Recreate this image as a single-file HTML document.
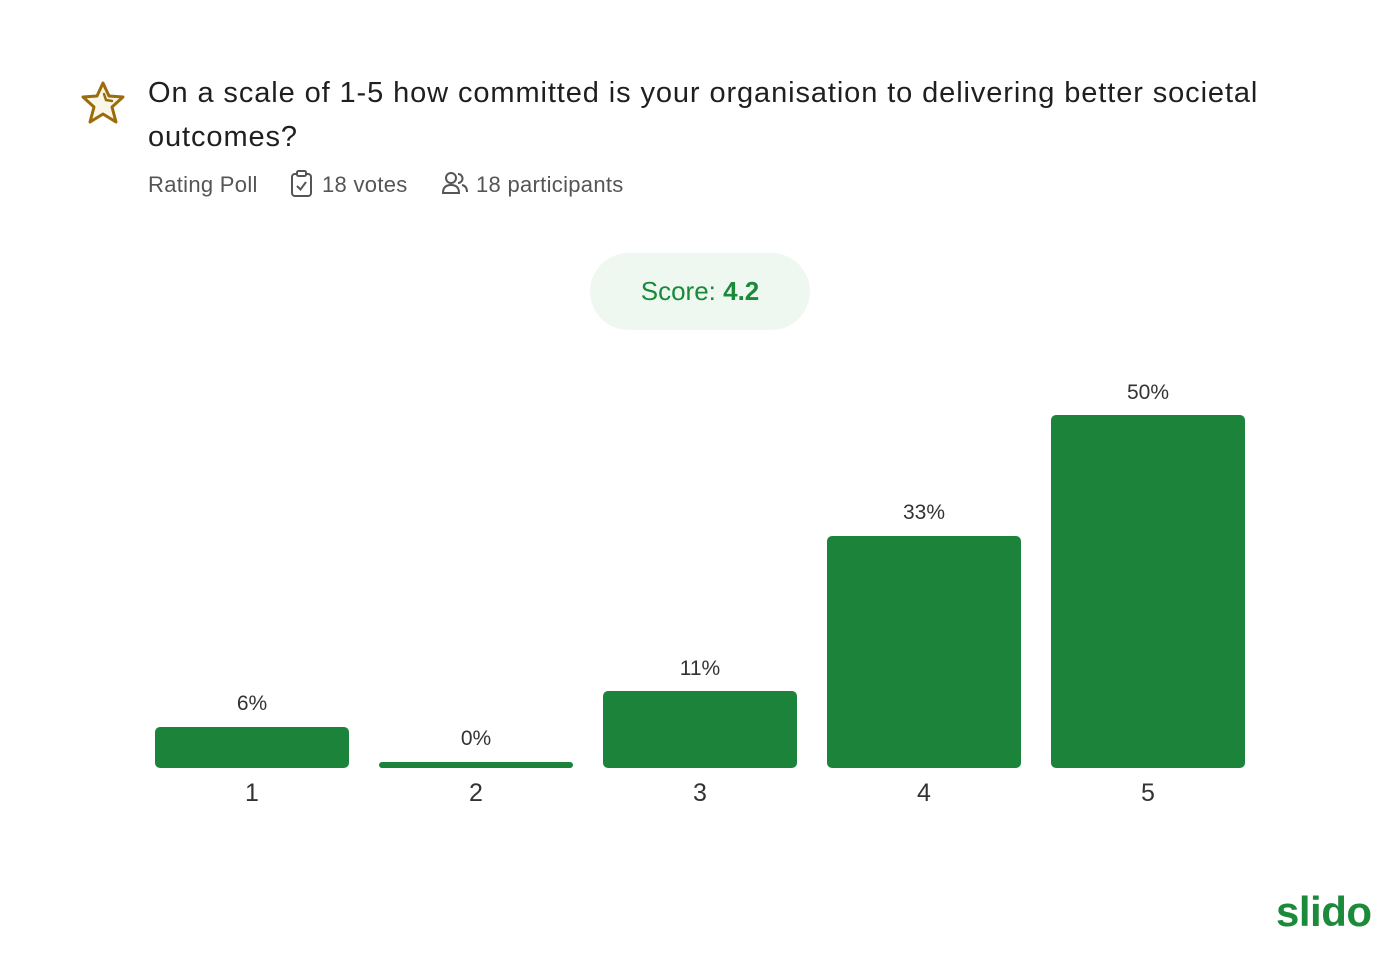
<!DOCTYPE html>
<html><head><meta charset="utf-8"><style>
body{margin:0;width:1400px;height:960px;background:#fff;font-family:"Liberation Sans",sans-serif;position:relative;overflow:hidden}
.a{position:absolute}
.t{left:148px;top:71px;font-size:29px;line-height:44px;color:#1f1f1f;width:1140px;letter-spacing:0.9px}
.m{top:172px;font-size:22px;color:#555;line-height:26px;letter-spacing:0.3px}
.pill{left:590px;top:253px;width:220px;height:77px;border-radius:39px;background:#eef8f0;color:#1a8a3a;font-size:26px;text-align:center;line-height:77px}
.bar{background:#1b833a;width:194px;border-radius:5px}
.pl{width:194px;text-align:center;font-size:21px;color:#333}
.xl{width:194px;text-align:center;font-size:25px;color:#333;top:779px}
</style></head><body>
<svg class="a" style="left:80px;top:80px" width="46" height="46" viewBox="0 0 46 46"><path d="M23 3 L29 16 L43 17 L32 27 L36 42 L23 34 L10 42 L14 27 L3 17 L17 16 Z" fill="#fbf7e8" stroke="#9a6c0a" stroke-width="3" stroke-linejoin="round"/><path d="M24 14 L26 20 L32 21" fill="none" stroke="#9a6c0a" stroke-width="2.5" stroke-linecap="round"/></svg>
<div class="a t">On a scale of 1-5 how committed is your organisation to delivering better societal outcomes?</div>
<div class="a m" style="left:148px">Rating Poll</div>
<svg class="a" style="left:290px;top:170px" width="24" height="28" viewBox="0 0 24 28"><rect x="2" y="4" width="19" height="22" rx="3" fill="none" stroke="#555" stroke-width="2"/><rect x="7" y="1" width="9" height="5" rx="1.5" fill="#fff" stroke="#555" stroke-width="2"/><path d="M7 16 L10.5 19.5 L16 12" fill="none" stroke="#555" stroke-width="2"/></svg>
<div class="a m" style="left:322px">18 votes</div>
<svg class="a" style="left:441px;top:171px" width="28" height="26" viewBox="0 0 28 26"><circle cx="10" cy="7" r="5" fill="none" stroke="#555" stroke-width="2"/><path d="M2 22 Q2 14 10 14 Q18 14 18 22 Z" fill="none" stroke="#555" stroke-width="2"/><path d="M17 3 A4.5 4.5 0 0 1 17 12 M21 14 Q26 15 26 21" fill="none" stroke="#555" stroke-width="2"/></svg>
<div class="a m" style="left:476px">18 participants</div>
<div class="a pill">Score: <b>4.2</b></div>
<div class="a bar" style="left:155px;top:727px;height:41px"></div>
<div class="a bar" style="left:379px;top:762px;height:6px;border-radius:3px"></div>
<div class="a bar" style="left:603px;top:691px;height:77px"></div>
<div class="a bar" style="left:827px;top:536px;height:232px"></div>
<div class="a bar" style="left:1051px;top:415px;height:353px"></div>
<div class="a pl" style="left:155px;top:692px">6%</div>
<div class="a pl" style="left:379px;top:727px">0%</div>
<div class="a pl" style="left:603px;top:657px">11%</div>
<div class="a pl" style="left:827px;top:501px">33%</div>
<div class="a pl" style="left:1051px;top:381px">50%</div>
<div class="a xl" style="left:155px">1</div>
<div class="a xl" style="left:379px">2</div>
<div class="a xl" style="left:603px">3</div>
<div class="a xl" style="left:827px">4</div>
<div class="a xl" style="left:1051px">5</div>
<div class="a" style="left:1276px;top:888px;font-size:42px;font-weight:bold;color:#1b8a3a;line-height:48px;letter-spacing:-0.5px">slido</div>
</body></html>
